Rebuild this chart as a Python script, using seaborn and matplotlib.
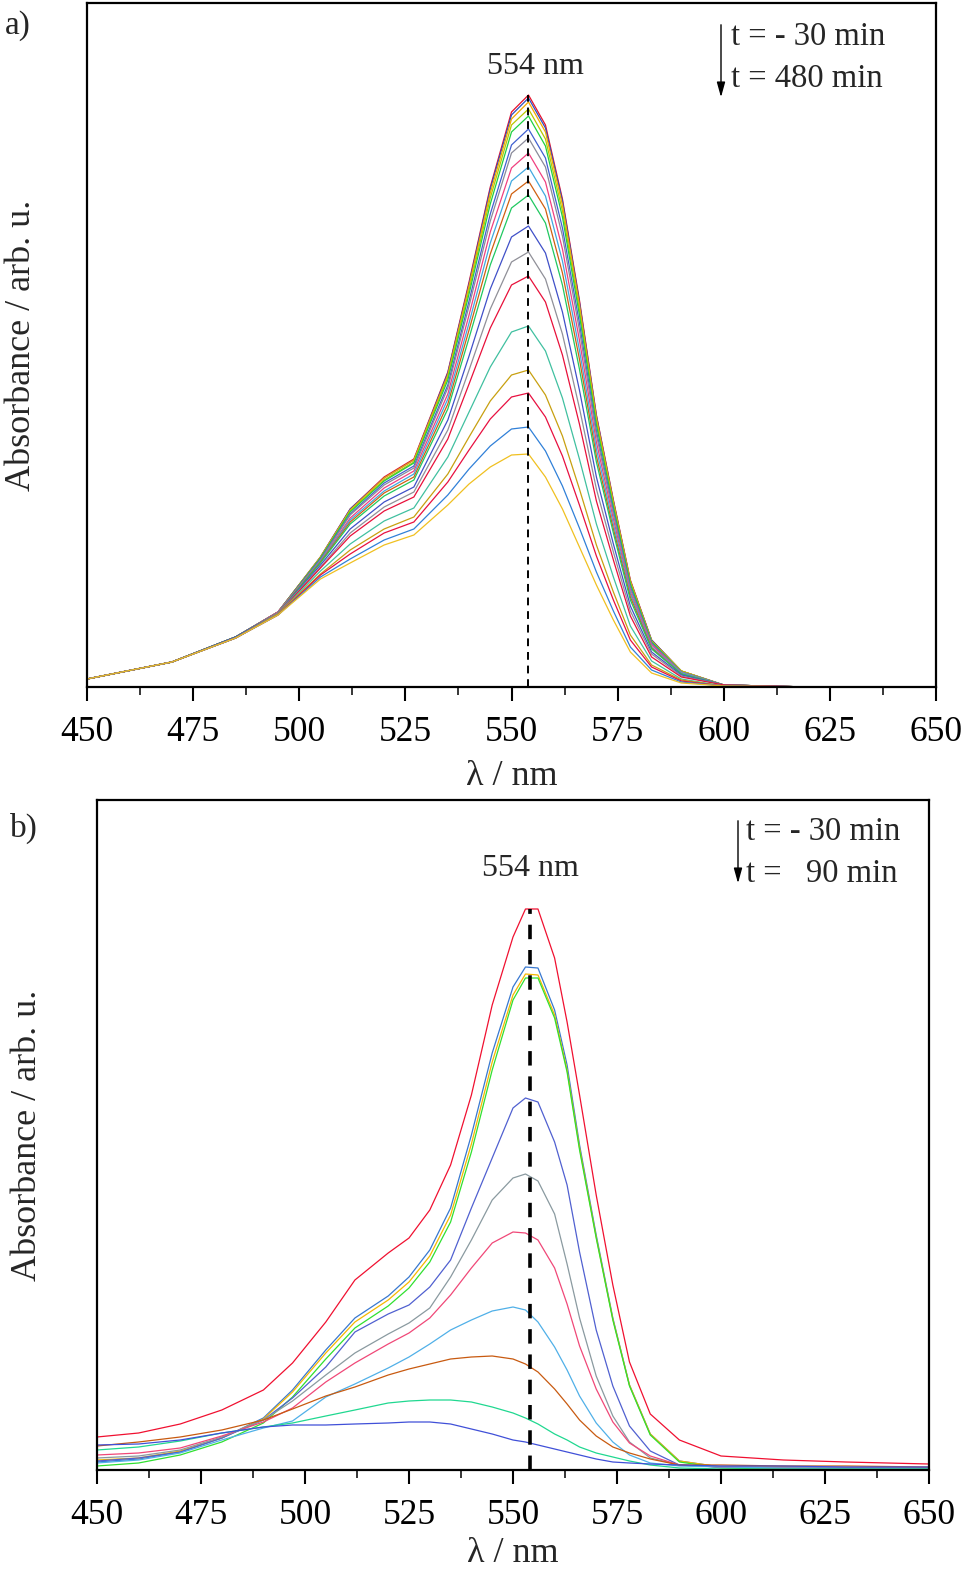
import numpy as np
import pandas as pd
import matplotlib
matplotlib.use("Agg")
import matplotlib.pyplot as plt
import seaborn as sns

# ---------------- data: panel a) ----------------
wl_a = [450, 470, 485, 495, 505, 512, 520, 527, 535, 540, 545, 550, 554, 558,
        562, 566, 570, 574, 578, 583, 590, 600, 620, 650]

a_01 = [0.08, 0.25, 0.50, 0.75, 1.30, 1.78, 2.10, 2.28, 3.15, 4.05, 5.00, 5.75, 5.92, 5.62, 4.88, 3.87, 2.72, 1.87, 1.07, 0.47, 0.16, 0.02, 0.0, 0.0]
a_02 = [0.08, 0.25, 0.50, 0.75, 1.30, 1.78, 2.09, 2.27, 3.14, 4.03, 4.98, 5.72, 5.89, 5.59, 4.86, 3.85, 2.71, 1.86, 1.06, 0.47, 0.16, 0.02, 0.0, 0.0]
a_03 = [0.08, 0.25, 0.50, 0.75, 1.30, 1.77, 2.09, 2.27, 3.12, 4.01, 4.94, 5.68, 5.85, 5.55, 4.82, 3.82, 2.69, 1.85, 1.06, 0.46, 0.16, 0.02, 0.0, 0.0]
a_04 = [0.08, 0.25, 0.50, 0.75, 1.29, 1.76, 2.07, 2.25, 3.10, 3.97, 4.89, 5.62, 5.78, 5.48, 4.76, 3.77, 2.65, 1.82, 1.04, 0.46, 0.16, 0.02, 0.0, 0.0]
a_05 = [0.08, 0.25, 0.50, 0.75, 1.29, 1.75, 2.06, 2.24, 3.07, 3.93, 4.83, 5.55, 5.71, 5.41, 4.70, 3.72, 2.62, 1.80, 1.03, 0.45, 0.15, 0.02, 0.0, 0.0]
a_06 = [0.08, 0.25, 0.50, 0.75, 1.28, 1.73, 2.04, 2.21, 3.02, 3.86, 4.73, 5.42, 5.58, 5.29, 4.59, 3.64, 2.56, 1.76, 1.00, 0.44, 0.15, 0.02, 0.0, 0.0]
a_07 = [0.08, 0.25, 0.50, 0.75, 1.27, 1.72, 2.02, 2.19, 2.99, 3.81, 4.66, 5.34, 5.49, 5.20, 4.51, 3.57, 2.52, 1.73, 0.98, 0.43, 0.15, 0.02, 0.0, 0.0]
a_08 = [0.08, 0.25, 0.50, 0.75, 1.26, 1.69, 1.99, 2.16, 2.93, 3.72, 4.55, 5.19, 5.34, 5.05, 4.38, 3.47, 2.45, 1.68, 0.95, 0.42, 0.14, 0.02, 0.0, 0.0]
a_09 = [0.08, 0.25, 0.50, 0.74, 1.26, 1.67, 1.96, 2.13, 2.88, 3.64, 4.44, 5.06, 5.20, 4.91, 4.26, 3.37, 2.38, 1.63, 0.93, 0.40, 0.14, 0.02, 0.0, 0.0]
a_10 = [0.08, 0.25, 0.50, 0.74, 1.25, 1.65, 1.94, 2.10, 2.83, 3.57, 4.33, 4.93, 5.06, 4.78, 4.14, 3.28, 2.31, 1.58, 0.90, 0.39, 0.13, 0.02, 0.0, 0.0]
a_11 = [0.08, 0.25, 0.50, 0.74, 1.24, 1.63, 1.91, 2.07, 2.78, 3.49, 4.22, 4.79, 4.92, 4.64, 4.02, 3.18, 2.25, 1.54, 0.87, 0.38, 0.13, 0.02, 0.0, 0.0]
a_12 = [0.08, 0.25, 0.50, 0.74, 1.22, 1.58, 1.85, 2.00, 2.67, 3.31, 3.98, 4.50, 4.61, 4.34, 3.75, 2.97, 2.10, 1.43, 0.81, 0.35, 0.12, 0.02, 0.0, 0.0]
a_13 = [0.08, 0.25, 0.49, 0.74, 1.20, 1.54, 1.80, 1.95, 2.57, 3.17, 3.78, 4.25, 4.35, 4.08, 3.53, 2.79, 1.98, 1.35, 0.76, 0.33, 0.11, 0.02, 0.0, 0.0]
a_14 = [0.08, 0.25, 0.49, 0.73, 1.19, 1.51, 1.76, 1.90, 2.48, 3.03, 3.59, 4.02, 4.11, 3.85, 3.32, 2.63, 1.86, 1.27, 0.71, 0.30, 0.10, 0.02, 0.0, 0.0]
a_15 = [0.08, 0.25, 0.49, 0.73, 1.16, 1.43, 1.66, 1.79, 2.30, 2.75, 3.20, 3.55, 3.61, 3.36, 2.89, 2.28, 1.63, 1.10, 0.61, 0.26, 0.08, 0.01, 0.0, 0.0]
a_16 = [0.08, 0.25, 0.49, 0.73, 1.13, 1.37, 1.58, 1.70, 2.13, 2.50, 2.86, 3.12, 3.17, 2.92, 2.51, 1.98, 1.42, 0.95, 0.52, 0.22, 0.07, 0.01, 0.0, 0.0]
a_17 = [0.08, 0.25, 0.49, 0.72, 1.12, 1.33, 1.54, 1.65, 2.05, 2.37, 2.68, 2.90, 2.94, 2.70, 2.31, 1.82, 1.31, 0.87, 0.47, 0.20, 0.06, 0.01, 0.0, 0.0]
a_18 = [0.08, 0.25, 0.49, 0.72, 1.10, 1.28, 1.47, 1.58, 1.92, 2.18, 2.41, 2.58, 2.60, 2.36, 2.01, 1.59, 1.15, 0.76, 0.40, 0.17, 0.05, 0.01, 0.0, 0.0]
a_19 = [0.08, 0.25, 0.49, 0.72, 1.08, 1.24, 1.42, 1.52, 1.82, 2.03, 2.20, 2.32, 2.33, 2.10, 1.78, 1.40, 1.02, 0.67, 0.35, 0.14, 0.04, 0.01, 0.0, 0.0]

curves_a = [a_01, a_02, a_03, a_04, a_05, a_06, a_07, a_08, a_09, a_10,
            a_11, a_12, a_13, a_14, a_15, a_16, a_17, a_18, a_19]
colors_a = ["#e8102a", "#3050c0", "#f5a800", "#b8c800", "#20d040", "#4060d0",
            "#8a8a9a", "#f04080", "#40a8e0", "#d06010", "#20c860", "#4050c8",
            "#909098", "#e8103a", "#40c0a0", "#c8a010", "#e81040", "#3080d8",
            "#f0c020"]

# ---------------- data: panel b) ----------------
wl_b = [450, 460, 470, 480, 490, 497, 505, 512, 520, 525, 530, 535, 540, 545,
        550, 553, 556, 560, 563, 566, 570, 574, 578, 583, 590, 600, 615, 630, 650]

b_red    = [0.33, 0.37, 0.46, 0.60, 0.80, 1.07, 1.48, 1.90, 2.17, 2.32, 2.60, 3.05, 3.75, 4.65, 5.33, 5.61, 5.61, 5.12, 4.48, 3.75, 2.75, 1.85, 1.08, 0.56, 0.30, 0.14, 0.10, 0.08, 0.06]
b_blue   = [0.08, 0.11, 0.18, 0.32, 0.52, 0.80, 1.20, 1.52, 1.74, 1.93, 2.20, 2.62, 3.35, 4.17, 4.83, 5.03, 5.02, 4.60, 4.05, 3.25, 2.35, 1.52, 0.85, 0.36, 0.09, 0.03, 0.03, 0.02, 0.02]
b_orange = [0.10, 0.12, 0.19, 0.32, 0.51, 0.78, 1.17, 1.48, 1.70, 1.88, 2.14, 2.55, 3.26, 4.08, 4.75, 4.96, 4.95, 4.55, 4.00, 3.22, 2.33, 1.51, 0.85, 0.36, 0.09, 0.03, 0.03, 0.02, 0.02]
b_green  = [0.04, 0.07, 0.15, 0.28, 0.47, 0.73, 1.11, 1.42, 1.64, 1.82, 2.08, 2.48, 3.18, 4.00, 4.70, 4.92, 4.92, 4.52, 3.98, 3.20, 2.32, 1.50, 0.84, 0.35, 0.08, 0.02, 0.01, 0.01, 0.01]
b_slate  = [0.09, 0.12, 0.18, 0.32, 0.50, 0.72, 1.03, 1.38, 1.56, 1.65, 1.83, 2.10, 2.62, 3.12, 3.62, 3.72, 3.68, 3.28, 2.85, 2.18, 1.40, 0.84, 0.44, 0.19, 0.05, 0.03, 0.02, 0.02, 0.02]
b_grey   = [0.12, 0.14, 0.20, 0.33, 0.50, 0.69, 0.95, 1.17, 1.36, 1.47, 1.62, 1.93, 2.30, 2.70, 2.92, 2.96, 2.89, 2.56, 2.06, 1.52, 0.94, 0.54, 0.28, 0.12, 0.05, 0.03, 0.02, 0.02, 0.02]
b_pink   = [0.15, 0.17, 0.22, 0.34, 0.48, 0.62, 0.88, 1.07, 1.26, 1.37, 1.52, 1.75, 2.02, 2.27, 2.38, 2.37, 2.30, 2.02, 1.66, 1.24, 0.81, 0.48, 0.27, 0.14, 0.05, 0.03, 0.02, 0.02, 0.02]
b_lblue  = [0.07, 0.10, 0.17, 0.30, 0.42, 0.49, 0.73, 0.86, 1.02, 1.13, 1.26, 1.40, 1.50, 1.59, 1.63, 1.60, 1.48, 1.23, 1.00, 0.74, 0.47, 0.28, 0.15, 0.07, 0.04, 0.03, 0.02, 0.02, 0.02]
b_brown  = [0.24, 0.28, 0.33, 0.40, 0.50, 0.61, 0.74, 0.83, 0.95, 1.01, 1.06, 1.11, 1.13, 1.14, 1.11, 1.06, 0.98, 0.81, 0.66, 0.50, 0.34, 0.23, 0.17, 0.11, 0.05, 0.05, 0.04, 0.04, 0.03]
b_teal   = [0.20, 0.23, 0.29, 0.37, 0.43, 0.47, 0.54, 0.60, 0.67, 0.69, 0.70, 0.70, 0.68, 0.63, 0.57, 0.52, 0.46, 0.36, 0.30, 0.23, 0.17, 0.13, 0.09, 0.05, 0.02, 0.01, 0.01, 0.01, 0.01]
b_purple = [0.25, 0.26, 0.30, 0.37, 0.43, 0.45, 0.45, 0.46, 0.47, 0.48, 0.48, 0.46, 0.41, 0.36, 0.30, 0.28, 0.25, 0.21, 0.18, 0.15, 0.11, 0.08, 0.07, 0.06, 0.05, 0.04, 0.04, 0.03, 0.03]

curves_b = [b_red, b_blue, b_orange, b_green, b_slate, b_grey, b_pink,
            b_lblue, b_brown, b_teal, b_purple]
colors_b = ["#f01030", "#3878d0", "#f5b800", "#30e030", "#5060d0", "#8a9aa0",
            "#f04878", "#50b0e8", "#c85a10", "#20d890", "#4050d8"]

peak_wl = 554
x_ticks = [450, 475, 500, 525, 550, 575, 600, 625, 650]
legend_a = ["t = - 30 min", "t = 480 min"]
legend_b = ["t = - 30 min", "t =   90 min"]

# ---------------- plotting ----------------
sns.set_theme(style="ticks")
plt.rcParams["font.family"] = ["Liberation Serif", "DejaVu Serif"]

W, H = 969, 1574
fig = plt.figure(figsize=(W / 100, H / 100), dpi=100)
ax_a = fig.add_axes([87 / W, 1 - 687 / H, 849 / W, 684 / H])
ax_b = fig.add_axes([97 / W, 1 - 1470 / H, 832 / W, 670 / H])


def draw(ax, wl, curves, colors, ymax, dash_lw, ylab_x, xlab_y):
    for vals, c in zip(curves, colors):
        df = pd.DataFrame({"wl": wl, "A": vals})
        sns.lineplot(data=df, x="wl", y="A", color=c, lw=0.9, ax=ax,
                     estimator=None, sort=False)
    top = max(max(v) for v in curves)
    ax.vlines(peak_wl, 0, top, colors="black", linestyles=(0, (4, 3)),
              lw=dash_lw, zorder=5)
    ax.set_xlim(450, 650)
    ax.set_ylim(0, ymax)
    ax.set_xticks(x_ticks)
    ax.set_xticks(np.arange(450, 651, 12.5), minor=True)
    ax.set_yticks([])
    ax.tick_params(axis="x", which="major", direction="out", length=10,
                   width=1.5, labelsize=25.5, pad=11, colors="black")
    ax.tick_params(axis="x", which="minor", direction="out", length=6,
                   width=1.3)
    for s in ax.spines.values():
        s.set_linewidth(1.6)
        s.set_color("black")
    ax.set_xlabel("λ / nm", fontsize=26)
    ax.set_ylabel("Absorbance / arb. u.", fontsize=26)
    ax.yaxis.set_label_coords(ylab_x, 0.5)
    ax.xaxis.set_label_coords(0.5, xlab_y)


draw(ax_a, wl_a, curves_a, colors_a, 6.84, 1.4, (22 - 87) / 849, -(776 - 687) / 684)
draw(ax_b, wl_b, curves_b, colors_b, 6.70, 2.6, (28 - 97) / 832, -(1553 - 1470) / 670)
for ax in (ax_a, ax_b):
    ax.xaxis.label.set_va("center")
    ax.yaxis.label.set_va("center")

# panel labels
fig.text(5 / W, 1 - 26 / H, "a)", fontsize=24, ha="left", va="center")
fig.text(10 / W, 1 - 828 / H, "b)", fontsize=24, ha="left", va="center")

# peak labels
fig.text(535 / W, 1 - 66 / H, "554 nm", fontsize=23, ha="center", va="center")
fig.text(530 / W, 1 - 868 / H, "554 nm", fontsize=23, ha="center", va="center")

# time arrows / legends
for (xa, y0, y1, xt, yt1, yt2, labels) in [
        (721, 22, 100, 731, 37, 79, legend_a),
        (738, 818, 886, 746, 832, 874, legend_b)]:
    fig.add_artist(matplotlib.patches.FancyArrowPatch(
        (xa / W, 1 - y0 / H), (xa / W, 1 - y1 / H),
        transform=fig.transFigure, arrowstyle="-|>,head_length=0.9,head_width=0.25",
        color="black", lw=1.0, mutation_scale=10))
    fig.text(xt / W, 1 - yt1 / H, labels[0], fontsize=23.5, ha="left", va="center")
    fig.text(xt / W, 1 - yt2 / H, labels[1], fontsize=23.5, ha="left", va="center")

fig.savefig("out.png", dpi=100, facecolor="white")
